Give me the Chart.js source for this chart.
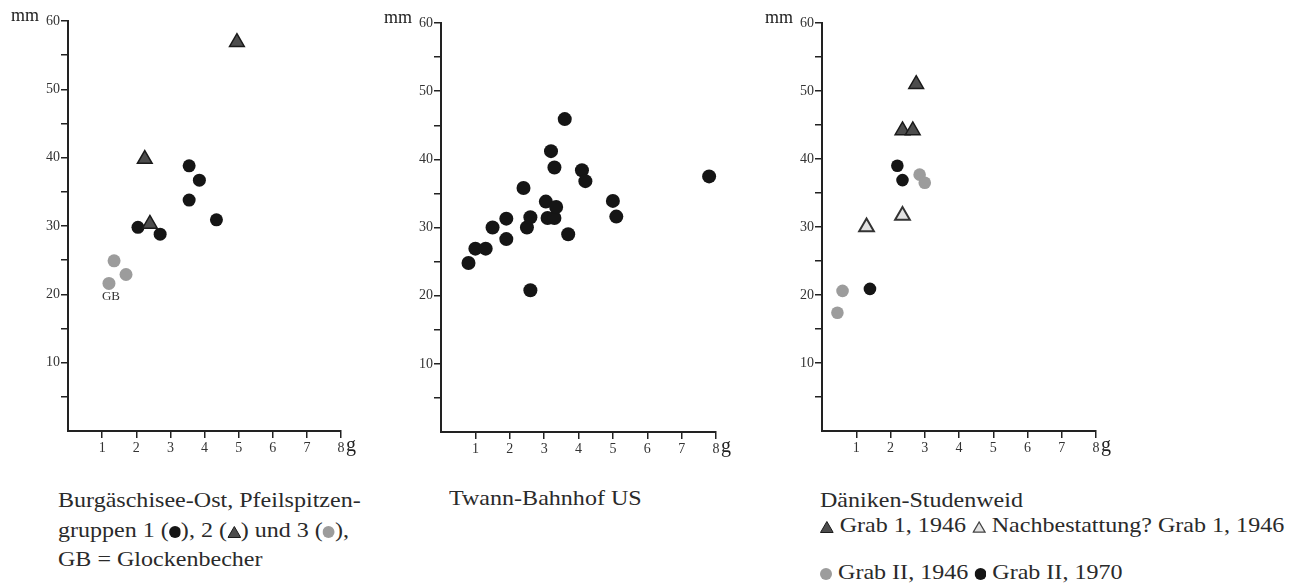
<!DOCTYPE html>
<html>
<head>
<meta charset="utf-8">
<script src="https://cdn.jsdelivr.net/npm/chart.js@4.4.1/dist/chart.umd.min.js"></script>
<style>
  body { margin: 0; background: #fff; width: 1303px; height: 585px; position: relative; overflow: hidden; }
  canvas { position: absolute; top: 0; }
  .cap { position: absolute; font-family: "Liberation Serif", serif; font-size: 21px; color: #2a2a2a; line-height: 29.5px; white-space: nowrap; transform: scaleX(1.145); transform-origin: 0 0; }
  .cap svg { vertical-align: -1px; }
</style>
</head>
<body>
<canvas id="burg" width="370" height="470" style="left:0px"></canvas>
<canvas id="twann" width="380" height="470" style="left:370px"></canvas>
<canvas id="daeniken" width="365" height="470" style="left:755px"></canvas>

<div class="cap" style="left:58px; top:486px">Burgäschisee-Ost, Pfeilspitzen-<br>gruppen 1 (<svg width="10.5" height="12" viewBox="0 0 12 12" preserveAspectRatio="none"><circle cx="6" cy="6" r="6" fill="#151515"/></svg>), 2 (<svg width="12" height="12" viewBox="0 0 14 12" preserveAspectRatio="none"><polygon points="7,0.5 13.5,11.5 0.5,11.5" fill="#4d4d4d" stroke="#1a1a1a" stroke-width="1"/></svg>) und 3 (<svg width="10.5" height="12" viewBox="0 0 12 12" preserveAspectRatio="none"><circle cx="6" cy="6" r="6" fill="#9c9c9c"/></svg>),<br>GB = Glockenbecher</div>
<div class="cap" style="left:449px; top:484px">Twann-Bahnhof US</div>
<div class="cap" style="left:820px; top:486px">Däniken-Studenweid</div>
<div class="cap" style="left:820px; top:511px"><svg width="12" height="12" viewBox="0 0 14 12" preserveAspectRatio="none"><polygon points="7,0.5 13.5,11.5 0.5,11.5" fill="#4d4d4d" stroke="#1a1a1a" stroke-width="1"/></svg> Grab 1, 1946 <svg width="12" height="12" viewBox="0 0 14 12" preserveAspectRatio="none"><polygon points="7,1 13,11.2 1,11.2" fill="#e2e2e2" stroke="#444" stroke-width="1.3"/></svg> Nachbestattung? Grab 1, 1946</div>
<div class="cap" style="left:820px; top:558px"><svg width="10.5" height="12" viewBox="0 0 12 12" preserveAspectRatio="none"><circle cx="6" cy="6" r="6" fill="#9c9c9c"/></svg> Grab II, 1946 <svg width="10.5" height="12" viewBox="0 0 12 12" preserveAspectRatio="none"><circle cx="6" cy="6" r="6" fill="#151515"/></svg> Grab II, 1970</div>

<script>
// axis ticks (g on x, mm on y)
const xTickValues = [1, 2, 3, 4, 5, 6, 7, 8];
const yTickValues = [5, 10, 15, 20, 25, 30, 35, 40, 45, 50, 55, 60];
const yTickLabels = [10, 20, 30, 40, 50, 60];

// Burgäschisee-Ost
const burgGroup1X = [2.05, 2.7, 3.55, 3.85, 3.55, 4.35];
const burgGroup1Y = [29.8, 28.8, 38.8, 36.7, 33.8, 30.9];
const burgGroup2X = [4.95, 2.25, 2.4];
const burgGroup2Y = [56.9, 39.8, 30.3];
const burgGroup3X = [1.35, 1.7, 1.2];
const burgGroup3Y = [24.9, 22.9, 21.6];
const burgGB = [1.2, 21.6];

// Twann-Bahnhof US
const twannX = [0.8, 1.0, 1.3, 1.5, 1.9, 1.9, 2.4, 2.5, 2.6, 2.6, 3.05, 3.1, 3.3, 3.35, 3.2, 3.3, 3.6, 3.7, 4.1, 4.2, 5.0, 5.1, 7.8];
const twannY = [24.8, 26.9, 26.9, 30.0, 31.3, 28.3, 35.8, 30.0, 31.5, 20.8, 33.8, 31.4, 31.4, 33.0, 41.2, 38.8, 45.9, 29.0, 38.4, 36.8, 33.9, 31.6, 37.5];

// Däniken-Studenweid
const grab1946X = [2.75, 2.35, 2.65];
const grab1946Y = [51.0, 44.2, 44.2];
const nachbestX = [1.3, 2.35];
const nachbestY = [30.0, 31.7];
const grab2_1946X = [2.85, 3.0, 0.6, 0.45];
const grab2_1946Y = [37.7, 36.5, 20.6, 17.4];
const grab2_1970X = [2.2, 2.35, 1.4];
const grab2_1970Y = [39.0, 36.9, 20.9];

const FONT = "'Liberation Serif', 'Times New Roman', serif";
const AXIS = "#222";

function pts(xs, ys) {
  return xs.map((x, i) => ({ x: x, y: ys[i] }));
}

function circles(xs, ys, color, r) {
  return { data: pts(xs, ys), pointStyle: "circle", pointRadius: r, backgroundColor: color, borderColor: color, borderWidth: 0 };
}

function triangles(xs, ys, fill, r) {
  return { data: pts(xs, ys), pointStyle: "triangle", pointRadius: r, backgroundColor: fill, borderColor: "#1a1a1a", borderWidth: 1.5 };
}

const unitLabels = {
  id: "unitLabels",
  afterDraw(chart) {
    const { ctx, chartArea, scales } = chart;
    ctx.save();
    ctx.fillStyle = AXIS;
    ctx.textBaseline = "alphabetic";
    ctx.font = "18px " + FONT;
    ctx.textAlign = "right";
    ctx.fillText("mm", chartArea.left - 29, scales.y.getPixelForValue(60));
    ctx.font = "20px " + FONT;
    ctx.textAlign = "left";
    ctx.fillText("g", scales.x.getPixelForValue(8) + 5, chartArea.bottom + 20);
    const gb = chart.options.gbLabel;
    if (gb) {
      ctx.font = "13px " + FONT;
      ctx.fillStyle = "#333";
      ctx.textAlign = "center";
      ctx.textBaseline = "middle";
      ctx.fillText("GB", scales.x.getPixelForValue(gb[0]) + 2, scales.y.getPixelForValue(gb[1]) + 13);
    }
    ctx.restore();
  }
};

function makeChart(id, datasets, yWidth, xHeight, padTop, padRight, extra) {
  const tickFont = { family: FONT, size: 14 };
  const grid = { display: true, drawOnChartArea: false, drawTicks: true, tickLength: 7, color: AXIS, lineWidth: 1.5 };
  const border = { display: true, color: AXIS, width: 2 };
  new Chart(document.getElementById(id), {
    type: "scatter",
    data: { datasets: datasets.map(d => Object.assign({ clip: false }, d)) },
    options: Object.assign({
      responsive: false,
      animation: false,
      devicePixelRatio: 1,
      layout: { padding: { top: padTop, right: padRight, left: 0, bottom: 0 } },
      plugins: { legend: { display: false }, tooltip: { enabled: false } },
      scales: {
        x: {
          type: "linear", min: 0, max: 8,
          afterBuildTicks: s => { s.ticks = xTickValues.map(v => ({ value: v })); },
          afterFit: s => { s.height = xHeight; },
          grid: grid, border: border,
          ticks: { font: tickFont, color: "#333", padding: 2, maxRotation: 0, autoSkip: false }
        },
        y: {
          type: "linear", min: 0, max: 60,
          afterBuildTicks: s => { s.ticks = yTickValues.map(v => ({ value: v })); },
          afterFit: s => { s.width = yWidth; },
          grid: grid, border: border,
          ticks: {
            font: tickFont, color: "#333", padding: 1, autoSkip: false,
            callback: v => (yTickLabels.includes(v) ? String(v) : "")
          }
        }
      }
    }, extra || {}),
    plugins: [unitLabels]
  });
}

makeChart("burg", [
  triangles(burgGroup2X, burgGroup2Y, "#4d4d4d", 8.5),
  circles(burgGroup3X, burgGroup3Y, "#9c9c9c", 6.5),
  circles(burgGroup1X, burgGroup1Y, "#151515", 6.5)
], 68, 39, 21, 29, { gbLabel: burgGB });

makeChart("twann", [
  circles(twannX, twannY, "#151515", 7)
], 71, 38, 23, 34);

makeChart("daeniken", [
  triangles(grab1946X, grab1946Y, "#4d4d4d", 8.5),
  Object.assign(triangles(nachbestX, nachbestY, "#e2e2e2", 8.5), { borderColor: "#333", borderWidth: 2 }),
  circles(grab2_1946X, grab2_1946Y, "#9c9c9c", 6.3),
  circles(grab2_1970X, grab2_1970Y, "#151515", 6.3)
], 67, 39, 23, 24);
</script>
</body>
</html>
